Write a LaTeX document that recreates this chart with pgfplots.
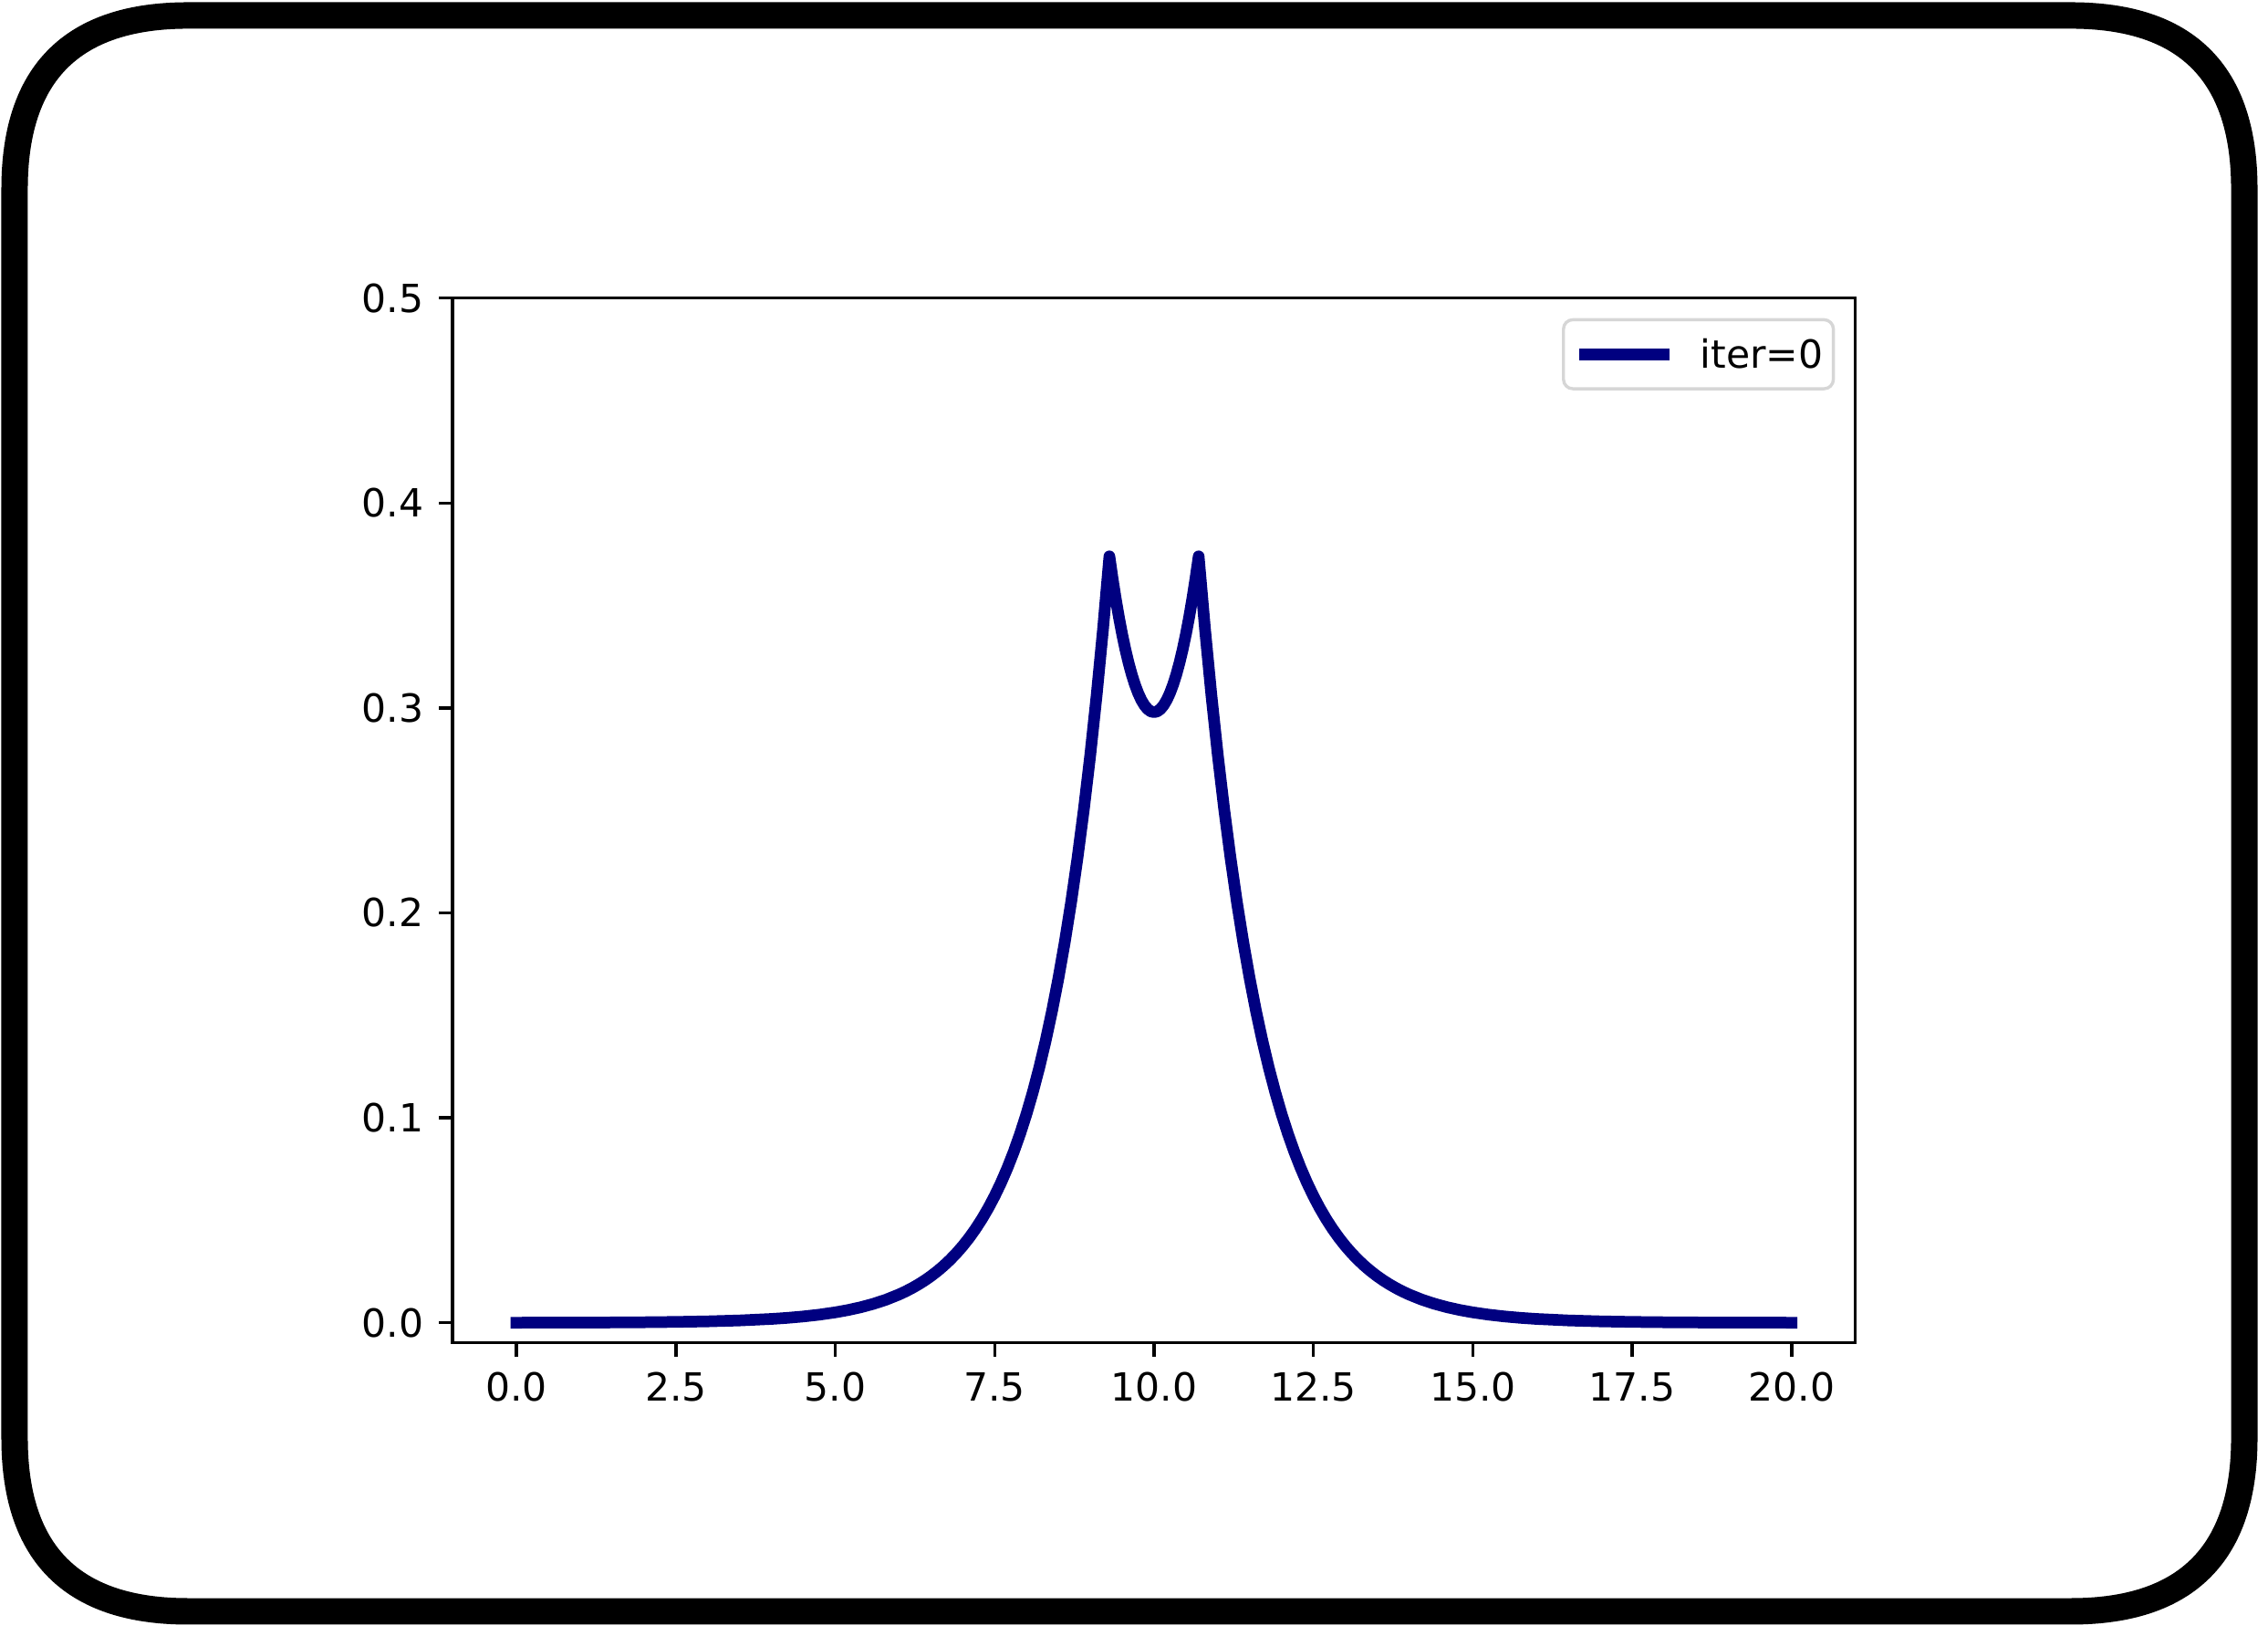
\documentclass[border=0pt]{standalone}
\usepackage{fontspec}
\setmainfont{DejaVu Sans}
\usepackage{pgfplots}
\pgfplotsset{compat=1.18}
\definecolor{navyline}{RGB}{0,0,128}
\definecolor{legendedge}{RGB}{214,214,214}

\pgfplotstableread{
x y
0 0.000034
0.5 0.000056
1 0.000093
1.5 0.000153
2 0.000253
2.5 0.000417
3 0.000687
3.5 0.001132
4 0.001867
4.25 0.002397
4.5 0.003078
4.75 0.003952
5.0 0.005075
5.2 0.006198
5.4 0.007570
5.6 0.009246
5.8 0.011293
6.0 0.013794
6.1 0.015244
6.2 0.016847
6.3 0.018619
6.4 0.020577
6.5 0.022742
6.6 0.025134
6.7 0.027777
6.8 0.030698
6.9 0.033927
7.0 0.037495
7.1 0.041438
7.2 0.045796
7.3 0.050613
7.4 0.055936
7.5 0.061818
7.6 0.068320
7.7 0.075505
7.8 0.083446
7.9 0.092222
8.0 0.101922
8.1 0.112641
8.2 0.124487
8.3 0.137580
8.4 0.152049
8.5 0.168040
8.6 0.185713
8.7 0.205244
8.8 0.226830
8.9 0.250686
9.0 0.277050
9.1 0.306189
9.2 0.338391
9.3 0.373980
9.35 0.363139
9.4 0.353209
9.45 0.344163
9.5 0.335977
9.55 0.328630
9.6 0.322105
9.65 0.316387
9.7 0.311459
9.75 0.307310
9.8 0.303929
9.85 0.301308
9.9 0.299441
9.95 0.298322
10.0 0.297950
10.05 0.298322
10.1 0.299441
10.15 0.301308
10.2 0.303929
10.25 0.307310
10.3 0.311459
10.35 0.316387
10.4 0.322105
10.45 0.328630
10.5 0.335977
10.55 0.344163
10.6 0.353209
10.65 0.363139
10.7 0.373980
10.8 0.338391
10.9 0.306189
11.0 0.277050
11.1 0.250686
11.2 0.226830
11.3 0.205244
11.4 0.185713
11.5 0.168040
11.6 0.152049
11.7 0.137580
11.8 0.124487
11.9 0.112641
12.0 0.101922
12.1 0.092222
12.2 0.083446
12.3 0.075505
12.4 0.068320
12.5 0.061818
12.6 0.055936
12.7 0.050613
12.8 0.045796
12.9 0.041438
13.0 0.037495
13.1 0.033927
13.2 0.030698
13.3 0.027777
13.4 0.025134
13.5 0.022742
13.6 0.020577
13.7 0.018619
13.8 0.016847
13.9 0.015244
14.0 0.013794
14.2 0.011293
14.4 0.009246
14.6 0.007570
14.8 0.006198
15.0 0.005075
15.25 0.003952
15.5 0.003078
15.75 0.002397
16 0.001867
16.5 0.001132
17 0.000687
17.5 0.000417
18 0.000253
18.5 0.000153
19 0.000093
19.5 0.000056
20 0.000034
}\iterzero

\begin{document}
\begin{tikzpicture}[x=1pt,y=1pt]
\useasboundingbox (0,0) rectangle (584.94,421.65);
\draw[line width=6.82pt, line join=round]
  (3.76,50.82) -- (3.76,372.95)
  .. controls (3.76,402.75) and (18.66,417.65) .. (48.46,417.65)
  -- (534.12,417.65)
  .. controls (563.92,417.65) and (578.82,402.75) .. (578.82,372.95)
  -- (578.82,50.82)
  .. controls (578.82,21.02) and (563.92,6.12) .. (534.12,6.12)
  -- (48.46,6.12)
  .. controls (18.66,6.12) and (3.76,21.02) .. (3.76,50.82) -- cycle;
\begin{axis}[
  at={(116.75pt,75.36pt)}, anchor=south west,
  scale only axis, width=361.76pt, height=269.41pt,
  xmin=-1, xmax=21, ymin=-0.0098, ymax=0.5,
  xtick={0,2.5,5,7.5,10,12.5,15,17.5,20},
  ytick={0,0.1,0.2,0.3,0.4,0.5},
  tick align=outside, tick pos=left,
  major tick length=3.5pt,
  tick style={black, line width=0.8pt},
  line width=0.8pt,
  xticklabel shift=3.8pt, yticklabel shift=3.6pt,
  /pgf/number format/assume math mode=true,
  tick label style={font=\fontsize{10}{12}\selectfont},
  xticklabel style={inner sep=0pt, /pgf/number format/.cd, fixed, fixed zerofill, precision=1},
  yticklabel style={inner sep=0pt, /pgf/number format/.cd, fixed, fixed zerofill, precision=1},
  legend cell align=left,
  legend image code/.code={\draw[#1, line width=3pt, line cap=butt] (0pt,0pt) -- (23.3pt,0pt);},
  legend style={
    at={(axis description cs:0.98543,0.98079)}, anchor=north east,
    draw=legendedge, line width=0.8pt, rounded corners=2.4pt, fill=white,
    inner xsep=2.6pt, inner ysep=5.3pt,
    font=\fontsize{10}{12}\selectfont,
    nodes={inner sep=0pt, text height=7.2pt, text depth=0pt},
    /tikz/every odd column/.append style={column sep=6.4pt},
  },
]
\addplot[navyline, line width=3pt, line join=round, line cap=rect] table[x=x, y=y] {\iterzero};
\addlegendentry{iter=0\hspace{0.8pt}}
\end{axis}
\end{tikzpicture}
\end{document}
